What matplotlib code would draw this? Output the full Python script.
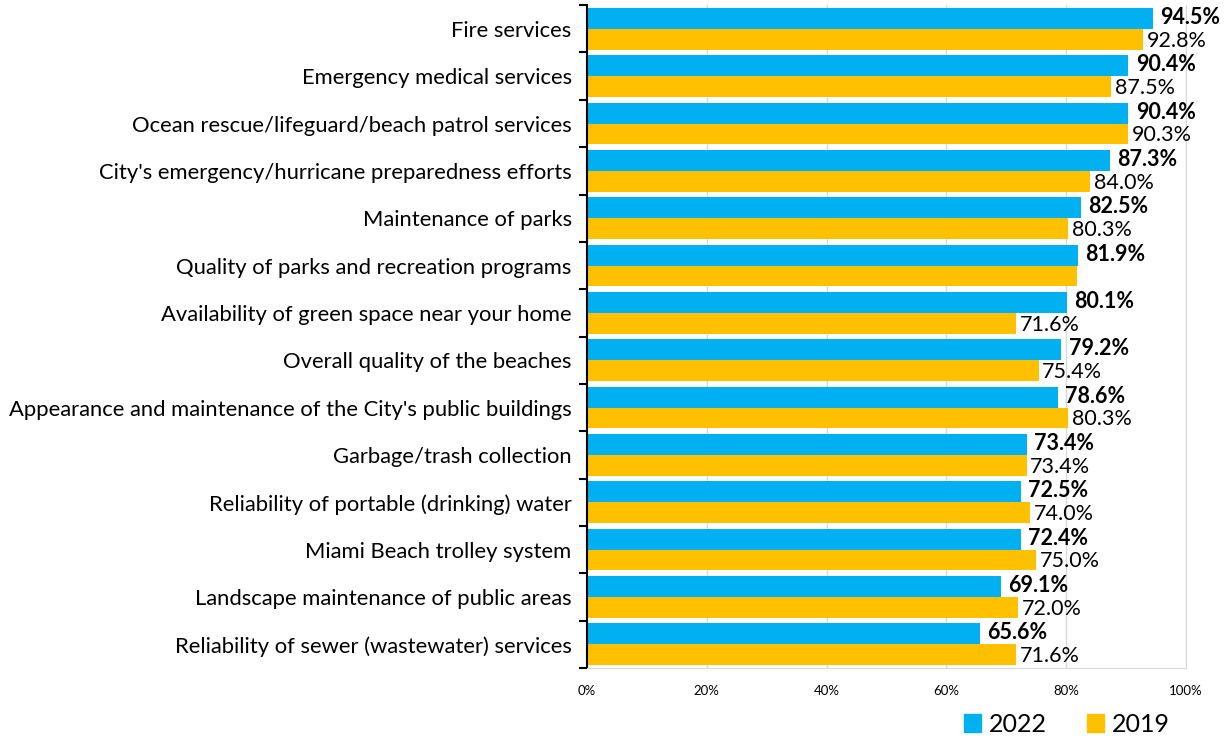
import numpy as np
import matplotlib
matplotlib.use("Agg")
import matplotlib.pyplot as plt
from matplotlib.patches import Patch

plt.rcParams['font.family'] = ['Lato', 'DejaVu Sans']

# data
categories = [
    "Fire services",
    "Emergency medical services",
    "Ocean rescue/lifeguard/beach patrol services",
    "City's emergency/hurricane preparedness efforts",
    "Maintenance of parks",
    "Quality of parks and recreation programs",
    "Availability of green space near your home",
    "Overall quality of the beaches",
    "Appearance and maintenance of the City's public buildings",
    "Garbage/trash collection",
    "Reliability of portable (drinking) water",
    "Miami Beach trolley system",
    "Landscape maintenance of public areas",
    "Reliability of sewer (wastewater) services",
]
vals_2022 = [94.5, 90.4, 90.4, 87.3, 82.5, 81.9, 80.1, 79.2, 78.6, 73.4, 72.5, 72.4, 69.1, 65.6]
vals_2019 = [92.8, 87.5, 90.3, 84.0, 80.3, 81.8, 71.6, 75.4, 80.3, 73.4, 74.0, 75.0, 72.0, 71.6]
show_2019_label = [True, True, True, True, True, False, True, True, True, True, True, True, True, True]

blue = '#00B0F0'
gold = '#FFC000'

fig = plt.figure(figsize=(12.29, 7.36), dpi=100)
ax = fig.add_axes([0.4776, 0.0924, 0.4874, 0.9006])

y = np.arange(len(categories))
h = 0.44
ax.barh(y - h/2, vals_2022, height=h, color=blue, zorder=2)
ax.barh(y + h/2, vals_2019, height=h, color=gold, zorder=2)

for i in range(len(categories)):
    ax.text(vals_2022[i] + 1.2, y[i] - h/2 - 0.02, f"{vals_2022[i]:.1f}%",
            va='center', ha='left', fontsize=15.5, fontweight='bold')
    if show_2019_label[i]:
        ax.text(vals_2019[i] + 0.6, y[i] + h/2 + 0.03, f"{vals_2019[i]:.1f}%",
                va='center', ha='left', fontsize=15.5)

ax.set_xlim(0, 100)
ax.set_ylim(len(categories) - 0.5, -0.5)
ax.set_xticks(np.arange(0, 101, 20))
ax.set_xticklabels([f"{v}%" for v in range(0, 101, 20)], fontsize=9.5)
ax.tick_params(axis='x', length=0, pad=12)
ax.grid(axis='x', color='#D9D9D9', lw=1, zorder=0)

ax.set_yticks(y)
ax.set_yticklabels(categories, fontsize=15.8)
ax.set_yticks(np.arange(-0.5, len(categories)), minor=True)
ax.tick_params(axis='y', which='major', length=0, pad=11)
ax.tick_params(axis='y', which='minor', length=6, width=1.5, color='black', direction='out')

ax.spines['left'].set_color('black')
ax.spines['left'].set_linewidth(1.5)
ax.spines['top'].set_visible(False)
ax.spines['right'].set_color('#D9D9D9')
ax.spines['bottom'].set_color('#D9D9D9')

handles = [Patch(color=blue, label='2022'), Patch(color=gold, label='2019')]
fig.legend(handles=handles, loc='lower right', bbox_to_anchor=(0.97, -0.03), ncol=2,
           frameon=False, fontsize=18, handlelength=0.7, handleheight=0.7,
           handletextpad=0.3, columnspacing=1.6)

fig.savefig('out.png', dpi=100)
